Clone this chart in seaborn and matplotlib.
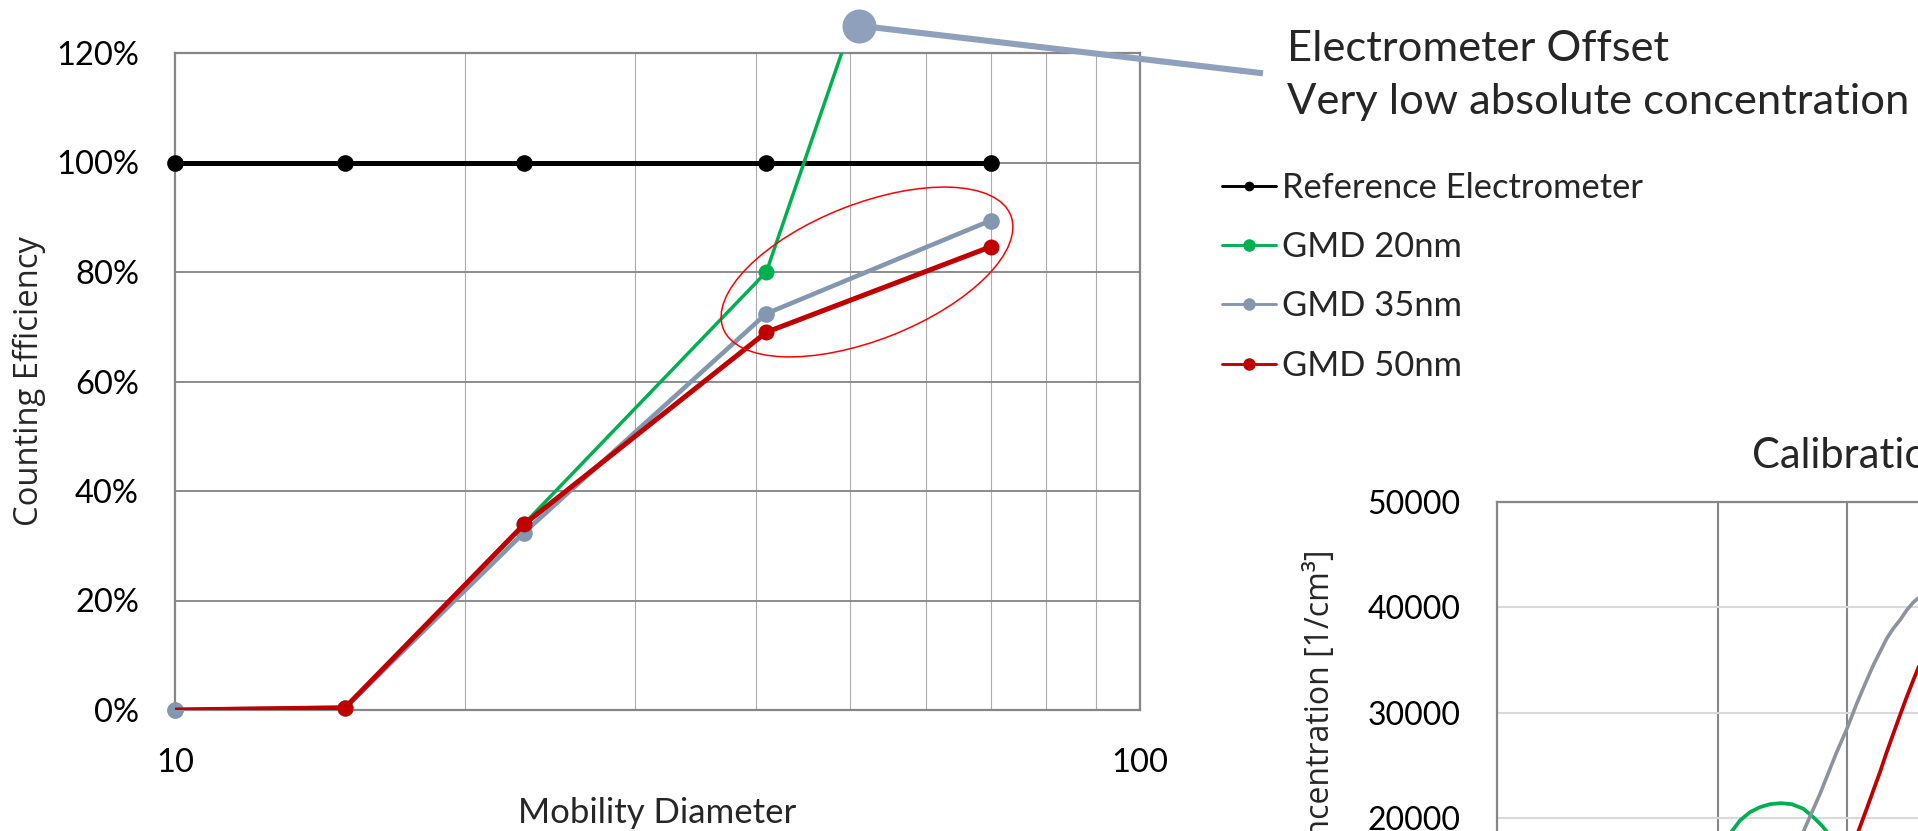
import matplotlib
matplotlib.use("Agg")
import matplotlib.pyplot as plt
import seaborn as sns
import pandas as pd
from matplotlib.lines import Line2D
from matplotlib.patches import Ellipse
from matplotlib.ticker import FixedLocator, NullFormatter

# ---------------- data: counting efficiency chart ----------------
diameters = [10, 15, 23, 41, 70]
ref_efficiency = [1.00, 1.00, 1.00, 1.00, 1.00]
gmd20_efficiency = [0.0, 0.004, 0.34, 0.80, 1.99]
gmd35_efficiency = [0.0, 0.004, 0.324, 0.724, 0.894]
gmd50_efficiency = [0.0, 0.004, 0.339, 0.690, 0.846]
series_names = ["Reference Electrometer", "GMD 20nm", "GMD 35nm", "GMD 50nm"]
eff_yticks = [0, 0.2, 0.4, 0.6, 0.8, 1.0, 1.2]
eff_yticklabels = ["0%", "20%", "40%", "60%", "80%", "100%", "120%"]
eff_xticks = [10, 100]
eff_xticklabels = ["10", "100"]
eff_minor_x = [20, 30, 40, 50, 60, 70, 80, 90]

# ---------------- data: calibration chart (partly visible) ----------------
cal_green_d = [20.4, 20.88, 21.43, 22.11, 22.82, 23.54, 24.37, 25.21, 26.15, 26.98, 27.70, 28.13, 29.0]
cal_green_c = [17700, 18735, 19781, 20570, 21046, 21331, 21426, 21331, 20894, 20095, 19306, 18735, 17600]
cal_gray_d = [25.5, 26.15, 27.55, 29.03, 30.04, 30.91, 31.89, 32.56, 33.25, 33.96, 34.67, 35.40,
              36.16, 36.91, 37.46, 39.0, 42.0]
cal_gray_c = [17200, 18735, 22319, 26274, 28650, 30875, 33090, 34515, 35779, 37053, 38004, 38793,
              39743, 40475, 40855, 41600, 42200]
cal_red_d = [30.5, 31.06, 31.89, 32.56, 33.25, 33.96, 34.67, 35.40, 36.16, 36.91, 37.46, 39.0, 42.0]
cal_red_c = [17200, 18735, 20894, 22633, 24373, 26274, 28023, 29762, 31502, 33090, 34202, 37000, 40500]
cal_yticks = [0, 10000, 20000, 30000, 40000, 50000]
cal_yticklabels = ["0", "10000", "20000", "30000", "40000", "50000"]
cal_minor_x = [20, 30, 40, 50, 60, 70, 80, 90]

annotation_lines = ["Electrometer Offset", "Very low absolute concentration"]
cal_title = "Calibration"
cal_ylabel = "Concentration [1/cm³]"

# ---------------- style ----------------
sns.set_theme(style="white")
plt.rcParams["font.family"] = ["Lato", "DejaVu Sans"]

W, H = 1918, 831
fig = plt.figure(figsize=(W / 100, H / 100), dpi=100)
fig.patch.set_facecolor("white")

def fx(px):
    return px / W

def fy(py):
    return 1 - py / H

FRAME = "#868686"
C_REF, C_G20, C_G35, C_G50 = "#000000", "#00B050", "#8497B0", "#C00000"

# ---------------- main axes ----------------
ax = fig.add_axes([fx(175), fy(710), 965 / W, 657 / H])
ax.set_xscale("log")
ax.set_xlim(10, 100)
ax.set_ylim(0, 1.2)

styles = [
    (ref_efficiency, C_REF, 3.6, 12.0, 3, False),
    (gmd20_efficiency, C_G20, 2.5, 11.5, 4, False),
    (gmd35_efficiency, C_G35, 3.3, 12.0, 5, False),
    (gmd50_efficiency, C_G50, 3.6, 11.5, 6, True),
]
for (vals, col, lw, ms, z, skip_first) in styles:
    df = pd.DataFrame({"d": diameters, "eff": vals})
    sns.lineplot(data=df, x="d", y="eff", ax=ax, color=col, linewidth=lw,
                 zorder=z, legend=False)
    pts = df[df["eff"] <= 1.2]
    if skip_first:
        pts = pts.iloc[1:]
    sns.scatterplot(data=pts, x="d", y="eff", ax=ax, color=col, s=ms ** 2,
                    linewidth=0, zorder=z, clip_on=False, legend=False)

ax.set_xlim(10, 100)
ax.set_ylim(0, 1.2)
ax.set_yticks(eff_yticks)
ax.set_yticklabels(eff_yticklabels)
ax.xaxis.set_major_locator(FixedLocator(eff_xticks))
ax.set_xticklabels(eff_xticklabels)
ax.xaxis.set_minor_locator(FixedLocator(eff_minor_x))
ax.xaxis.set_minor_formatter(NullFormatter())
ax.set_axisbelow(True)
ax.yaxis.grid(True, color="#8C8C8C", linewidth=1.4)
ax.xaxis.grid(True, which="minor", color="#ABABAB", linewidth=0.8)
ax.xaxis.grid(False, which="major")
for s in ax.spines.values():
    s.set_color(FRAME)
    s.set_linewidth(1.6)
ax.tick_params(axis="both", which="both", length=0, labelsize=23.5, colors="black")
ax.tick_params(axis="y", pad=26)
ax.tick_params(axis="x", pad=27.5)
ax.set_xlabel("Mobility Diameter", fontsize=25)
ax.xaxis.set_label_coords(0.5, -0.133)
ax.set_ylabel("Counting Efficiency", fontsize=23.6, family=["Open Sans", "DejaVu Sans"])
ax.yaxis.set_label_coords(-0.1337, 0.5)

# legend
handles = [
    Line2D([], [], color=C_REF, lw=2.1, marker="o", ms=7, mew=0),
    Line2D([], [], color=C_G20, lw=2.1, marker="o", ms=9, mew=0),
    Line2D([], [], color=C_G35, lw=2.1, marker="o", ms=9, mew=0),
    Line2D([], [], color=C_G50, lw=2.1, marker="o", ms=9, mew=0),
]
leg = ax.legend(handles, series_names, loc="upper left",
                bbox_to_anchor=(fx(1222), fy(172)), bbox_transform=fig.transFigure,
                frameon=False, fontsize=24.8, handlelength=1.57, handletextpad=0.17,
                labelspacing=0.79, borderpad=0, borderaxespad=0)

# highlight ellipse
fig.add_artist(Ellipse((8.67, (H - 272) / 100), 3.09, 1.36, angle=21.5,
                       transform=fig.dpi_scale_trans, fill=False,
                       edgecolor="#FF0000", linewidth=1.1, zorder=10))

# callout
fig.add_artist(Line2D([fx(859.3), fx(1263)], [fy(25.7), fy(73.3)],
                      transform=fig.transFigure, color="#8EA0BC", lw=4.4,
                      marker="o", markevery=[0], ms=24.5, mew=0,
                      solid_capstyle="butt", zorder=11))
fig.text(fx(1287), fy(60.7), annotation_lines[0], fontsize=31.3, va="baseline", ha="left")
fig.text(fx(1287), fy(114), annotation_lines[1], fontsize=31.3, va="baseline", ha="left")

# ---------------- calibration axes (cut by figure edge) ----------------
ax2 = fig.add_axes([fx(1497), fy(1029), 734 / W, 527 / H])
ax2.set_xscale("log")
sns.lineplot(x=cal_green_d, y=cal_green_c, ax=ax2, color=C_G20, linewidth=2.7, zorder=4)
sns.lineplot(x=cal_gray_d, y=cal_gray_c, ax=ax2, color="#8C939D", linewidth=2.6, zorder=5)
sns.lineplot(x=cal_red_d, y=cal_red_c, ax=ax2, color=C_G50, linewidth=2.7, zorder=6)
ax2.set_xlim(10, 100)
ax2.set_ylim(0, 50000)
ax2.set_yticks(cal_yticks)
ax2.set_yticklabels(cal_yticklabels)
ax2.xaxis.set_major_locator(FixedLocator([10, 100]))
ax2.xaxis.set_minor_locator(FixedLocator(cal_minor_x))
ax2.xaxis.set_minor_formatter(NullFormatter())
ax2.set_xticklabels([])
ax2.set_axisbelow(True)
ax2.yaxis.grid(True, color="#D9D9D9", linewidth=1.5)
ax2.xaxis.grid(True, which="minor", color=FRAME, linewidth=1.5)
for s in ax2.spines.values():
    s.set_color(FRAME)
    s.set_linewidth(1.6)
ax2.tick_params(axis="both", which="both", length=0, labelsize=23, colors="black")
ax2.tick_params(axis="y", pad=26)
fig.text(fx(1321), fy(550), cal_ylabel, rotation=90, rotation_mode="anchor",
         ha="right", va="center", fontsize=23, family=["Open Sans", "DejaVu Sans"])
fig.text(fx(1752), fy(468), cal_title, fontsize=30, ha="left", va="baseline")

fig.savefig("out.png", dpi=100, facecolor="white")
